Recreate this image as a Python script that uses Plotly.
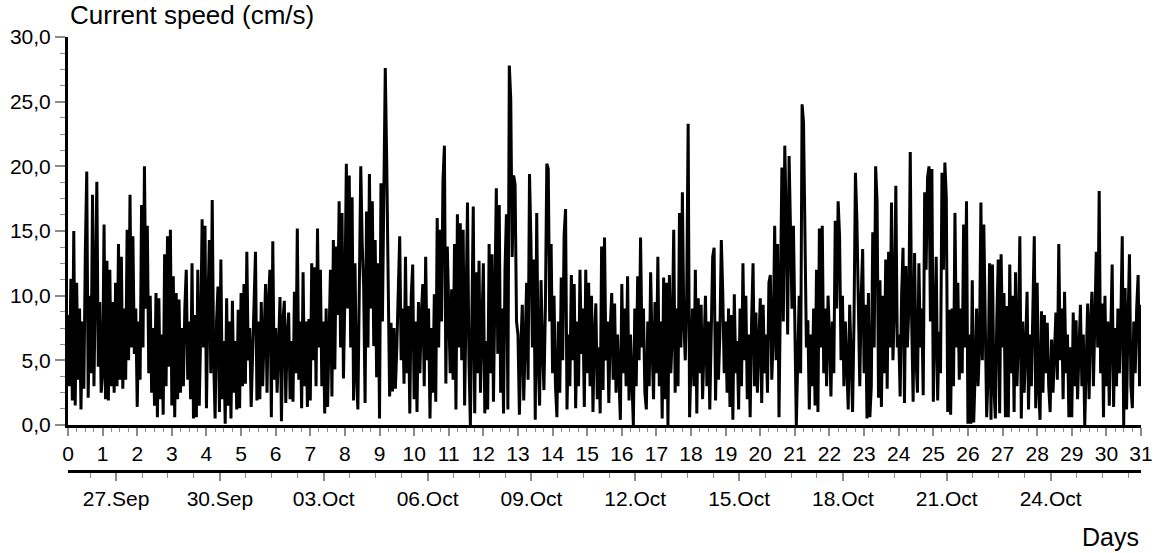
import plotly.graph_objects as go

# Hourly current speed (cm/s), one row per day (24 values), day 0 .. day 30, plus final sample
speed_cm_s = [
    8.5, 3.0, 11.3, 1.9, 15.0, 1.5, 11.0, 3.5, 9.0, 1.2, 8.0, 2.8, 13.3, 19.6, 2.1, 10.0, 4.0, 17.8, 3.0, 12.7, 18.8, 4.5, 9.5, 2.5,
    4.0, 15.5, 2.0, 12.7, 1.9, 12.0, 3.0, 9.5, 2.5, 11.0, 3.0, 14.0, 3.5, 13.0, 2.8, 9.0, 3.5, 15.1, 5.0, 17.8, 6.0, 14.6, 5.5, 9.0,
    1.4, 8.0, 3.5, 17.0, 6.0, 20.0, 9.0, 15.4, 4.0, 10.0, 2.5, 7.5, 1.5, 10.2, 0.6, 9.8, 2.0, 7.0, 0.8, 13.2, 3.0, 14.6, 4.5, 15.1,
    1.5, 11.5, 0.6, 10.2, 2.0, 9.7, 2.5, 7.5, 3.0, 9.0, 12.0, 3.5, 8.0, 2.0, 12.5, 0.5, 8.5, 0.6, 12.0, 1.5, 7.0, 15.9, 6.0, 15.4,
    1.3, 9.0, 14.3, 4.0, 17.4, 5.0, 0.5, 8.0, 10.7, 1.0, 12.8, 2.0, 6.5, 0.1, 9.8, 1.5, 8.0, 0.5, 9.6, 2.5, 6.5, 1.2, 8.9, 1.3,
    10.2, 3.0, 10.9, 3.2, 13.4, 5.0, 7.5, 1.4, 6.0, 10.2, 13.4, 1.9, 8.0, 2.0, 9.5, 3.0, 7.0, 10.9, 2.5, 9.5, 12.0, 0.6, 14.2, 3.5,
    7.5, 2.5, 6.0, 9.9, 0.3, 8.0, 9.6, 1.7, 7.0, 8.7, 2.0, 6.5, 1.8, 10.3, 4.0, 15.2, 3.5, 8.0, 1.3, 11.8, 3.0, 8.0, 1.4, 8.2,
    1.9, 12.5, 5.0, 12.2, 3.0, 15.2, 6.0, 12.0, 3.0, 8.0, 0.9, 9.0, 1.4, 7.5, 12.0, 2.2, 14.3, 4.3, 13.8, 8.5, 17.3, 6.0, 16.4, 3.6,
    10.0, 20.2, 9.0, 19.3, 6.0, 17.6, 1.9, 12.5, 4.0, 1.2, 11.0, 20.0, 14.0, 10.7, 1.7, 16.5, 6.0, 19.4, 9.0, 17.3, 6.1, 14.3, 3.7, 12.5,
    0.5, 18.7, 8.0, 18.3, 27.6, 20.3, 12.8, 2.2, 7.9, 2.6, 7.5, 2.8, 6.0, 10.0, 14.6, 5.0, 9.0, 3.2, 13.0, 4.0, 9.2, 0.9, 10.0, 12.4,
    2.0, 8.0, 1.0, 9.5, 4.0, 8.5, 10.9, 3.0, 13.0, 5.0, 9.0, 0.5, 7.5, 2.5, 10.1, 1.8, 16.0, 6.0, 15.1, 8.0, 18.9, 21.6, 3.2, 13.8,
    9.0, 4.0, 10.5, 3.5, 14.0, 1.2, 16.3, 6.0, 15.6, 5.0, 15.1, 1.5, 9.0, 17.2, 5.0, 0.0, 8.0, 16.9, 0.9, 11.8, 4.0, 12.7, 2.5, 9.0,
    12.5, 0.9, 6.5, 1.2, 14.0, 4.0, 13.2, 1.8, 10.0, 18.3, 5.5, 17.0, 2.5, 9.0, 0.9, 12.0, 16.3, 1.2, 27.8, 25.2, 13.0, 19.3, 18.6, 8.0,
    7.0, 0.8, 6.0, 9.3, 1.9, 8.0, 11.0, 3.5, 19.4, 14.1, 6.0, 12.8, 0.4, 16.4, 5.0, 1.5, 11.2, 6.0, 2.7, 9.0, 20.2, 19.8, 8.0, 14.0,
    4.0, 10.0, 3.0, 0.6, 8.0, 2.5, 11.4, 5.0, 14.7, 16.7, 1.2, 7.0, 3.0, 11.6, 5.0, 10.9, 1.3, 8.0, 3.0, 12.0, 5.5, 9.0, 1.4, 12.0,
    4.0, 11.0, 3.0, 10.0, 1.0, 7.0, 9.4, 2.0, 6.0, 0.9, 13.8, 2.7, 14.5, 5.0, 8.0, 1.7, 7.5, 10.2, 3.5, 9.4, 2.5, 7.0, 3.0, 0.4,
    10.9, 4.0, 9.0, 3.0, 11.5, 1.9, 7.0, 4.0, 0.0, 9.0, 3.0, 11.5, 5.0, 14.5, 6.0, 9.0, 2.5, 1.2, 8.0, 3.0, 11.8, 6.0, 2.0, 9.5,
    4.0, 13.0, 3.0, 8.0, 0.5, 11.4, 2.0, 11.0, 0.0, 11.6, 4.0, 7.0, 15.1, 2.5, 9.0, 3.0, 16.4, 6.0, 18.0, 8.0, 5.0, 10.0, 23.3, 0.6,
    5.0, 9.0, 3.0, 12.0, 0.9, 9.8, 4.0, 9.3, 2.0, 6.5, 10.0, 3.0, 8.0, 1.2, 6.0, 13.0, 13.7, 1.9, 8.0, 3.5, 7.0, 14.3, 10.2, 4.0,
    8.0, 2.5, 9.0, 1.4, 8.5, 0.4, 10.1, 4.0, 6.5, 1.2, 9.0, 3.0, 12.5, 5.0, 10.0, 2.0, 7.0, 0.6, 8.0, 12.5, 3.0, 8.7, 2.5, 7.0,
    9.8, 1.7, 9.3, 4.0, 7.0, 2.5, 11.0, 11.6, 3.5, 7.0, 15.4, 5.0, 14.0, 0.6, 10.0, 19.9, 8.0, 21.6, 15.8, 7.0, 20.8, 16.1, 9.0, 15.4,
    6.0, 0.0, 5.0, 10.0, 4.0, 24.8, 23.4, 15.2, 6.0, 8.1, 1.2, 7.0, 3.0, 9.0, 1.5, 12.0, 1.0, 15.2, 6.0, 15.4, 4.0, 9.0, 3.0, 10.0,
    7.0, 2.2, 8.0, 4.0, 15.8, 9.0, 17.3, 14.6, 5.0, 10.0, 3.0, 8.0, 5.0, 1.2, 9.3, 4.0, 1.0, 8.0, 19.5, 15.9, 8.0, 3.0, 10.0, 13.6,
    4.0, 9.3, 0.5, 10.2, 0.6, 3.0, 14.9, 6.0, 20.0, 17.2, 2.1, 11.2, 1.4, 10.0, 4.0, 12.8, 2.8, 13.4, 6.0, 17.2, 5.0, 9.0, 18.5, 6.0,
    7.0, 2.2, 10.0, 13.7, 1.7, 12.3, 6.0, 9.0, 21.1, 8.0, 1.8, 13.3, 5.0, 2.5, 12.5, 6.0, 9.0, 2.3, 18.0, 12.0, 19.1, 20.0, 8.0, 19.8,
    1.8, 9.0, 13.0, 1.9, 7.2, 4.0, 19.5, 12.0, 20.3, 17.6, 1.0, 8.9, 0.8, 9.0, 3.0, 16.4, 6.0, 11.0, 3.5, 9.0, 4.0, 15.5, 6.0, 17.3,
    0.1, 7.0, 0.1, 11.2, 0.2, 4.0, 9.0, 3.0, 6.0, 17.2, 5.0, 15.5, 8.0, 0.6, 4.0, 12.5, 0.4, 12.4, 3.0, 0.5, 8.0, 12.8, 0.9, 13.2,
    6.0, 10.2, 0.6, 9.2, 0.6, 12.4, 4.0, 10.0, 1.0, 11.8, 3.0, 7.0, 14.6, 0.5, 8.0, 2.5, 6.0, 10.3, 1.2, 7.0, 3.0, 9.0, 14.6, 1.3,
    11.0, 3.0, 0.4, 8.8, 2.5, 8.5, 4.0, 7.9, 3.0, 1.0, 6.6, 2.5, 5.0, 8.7, 3.5, 14.0, 5.0, 9.0, 2.0, 10.3, 4.0, 7.0, 0.6, 6.0,
    0.6, 8.7, 3.0, 8.1, 2.0, 6.0, 9.3, 3.0, 7.0, 0.0, 5.0, 9.4, 2.0, 8.0, 10.3, 3.0, 8.0, 13.4, 6.0, 18.1, 4.0, 9.4, 0.6, 10.0,
    3.0, 8.0, 1.5, 7.0, 12.4, 1.4, 7.5, 3.0, 9.0, 4.0, 8.0, 14.6, 0.0, 10.6, 1.2, 8.0, 13.2, 3.0, 1.3, 8.0, 4.0, 9.0, 11.6, 3.0,
    9.3,
]
sample_interval_h = 1.0
days = [i * sample_interval_h / 24.0 for i in range(len(speed_cm_s))]

day_ticks = list(range(0, 32))
date_ticks = ["2012-09-27", "2012-09-30", "2012-10-03", "2012-10-06", "2012-10-09",
              "2012-10-12", "2012-10-15", "2012-10-18", "2012-10-21", "2012-10-24"]
date_labels = ["27.Sep", "30.Sep", "03.Oct", "06.Oct", "09.Oct",
               "12.Oct", "15.Oct", "18.Oct", "21.Oct", "24.Oct"]
date_start = "2012-09-25 14:40"
date_end = "2012-10-26 14:40"

FONT = "Liberation Sans, Arial, Helvetica, sans-serif"
TICKC = "#8a8a8a"

fig = go.Figure()
fig.add_trace(go.Scatter(x=days, y=speed_cm_s, mode="lines",
                         line=dict(color="black", width=3),
                         showlegend=False, hoverinfo="skip"))
fig.add_trace(go.Scatter(x=[date_start, date_end], y=[None, None], xaxis="x2", yaxis="y",
                         mode="lines", showlegend=False, hoverinfo="skip"))

fig.update_layout(
    width=1156, height=553, autosize=False,
    margin=dict(l=68, r=15, t=37, b=82),
    paper_bgcolor="white", plot_bgcolor="white",
    separators=", ",
    font=dict(family=FONT, size=21, color="black"),
    xaxis=dict(
        range=[0, 31], anchor="y", automargin=False, ticklabeloverflow="allow",
        tickmode="array", tickvals=day_ticks, ticktext=[str(d) for d in day_ticks],
        ticks="outside", ticklen=8, tickwidth=1.5, tickcolor=TICKC,
        minor=dict(dtick=0.25, tick0=0, ticks="outside", ticklen=4, tickwidth=1.2, tickcolor=TICKC),
        showline=True, linecolor="black", linewidth=3,
        showgrid=False, zeroline=False,
        tickfont=dict(size=21),
    ),
    xaxis2=dict(
        type="date", range=[date_start, date_end], automargin=False,
        anchor="free", position=0, overlaying="x", side="bottom",
        tickmode="array", tickvals=date_ticks, ticktext=date_labels,
        ticks="outside", ticklen=8, tickwidth=1.5, tickcolor=TICKC,
        minor=dict(dtick=64800000, tick0="2012-09-27", ticks="outside", ticklen=5, tickwidth=1.2, tickcolor=TICKC),
        showline=True, linecolor="black", linewidth=3,
        showgrid=False, zeroline=False,
        tickfont=dict(size=21),
    ),
    yaxis=dict(
        range=[0, 30], domain=[46 / 434, 1], anchor="x", automargin=False,
        tickmode="linear", tick0=0, dtick=5, tickformat=".1f",
        ticks="outside", ticklen=10, tickwidth=1.5, tickcolor=TICKC,
        minor=dict(dtick=1.25, ticks="outside", ticklen=5, tickwidth=1.2, tickcolor=TICKC),
        showline=True, linecolor="black", linewidth=3,
        showgrid=False, zeroline=False,
        tickfont=dict(size=21),
    ),
    annotations=[
        dict(text="Current speed (cm/s)", xref="paper", yref="paper", x=0, y=1,
             xanchor="left", yanchor="bottom", yshift=5, showarrow=False,
             font=dict(size=26)),
        dict(text="Days", xref="paper", yref="paper", x=1, y=0,
             xanchor="right", yanchor="middle", yshift=-66, showarrow=False,
             font=dict(size=25)),
    ],
)

fig.write_html(
    "out.html",
    config={"responsive": False, "displayModeBar": False},
    post_script="document.body.style.margin='0';document.body.style.overflow='hidden';",
)
